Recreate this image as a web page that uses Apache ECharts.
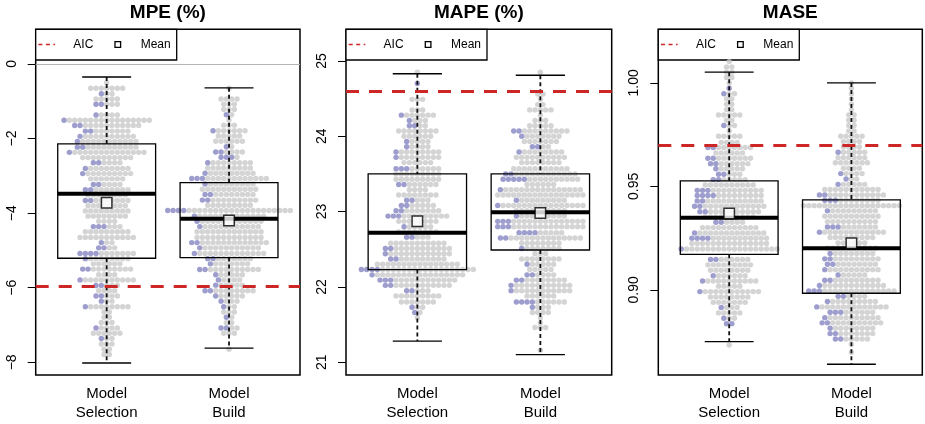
<!DOCTYPE html>
<html>
<head>
<meta charset="utf-8">
<script src="https://cdn.jsdelivr.net/npm/echarts@6/dist/echarts.min.js"></script>
<style>
html, body { margin: 0; padding: 0; background: #fff; }
#chart { width: 925px; height: 424px; }
</style>
</head>
<body>
<div id="chart"></div>
<script>
var categories = ['Model\nSelection', 'Model\nBuild'];
var titles = ['MPE (%)', 'MAPE (%)', 'MASE'];

// box stats: [lower whisker, Q1, median, Q3, upper whisker], Model Selection then Model Build
var mpeBox = [[-8.02, -5.21, -3.48, -2.14, -0.35], [-7.62, -5.19, -4.15, -3.18, -0.64]];
var mpeMean = [-3.72, -4.20];
var mpeAIC = -5.95;
var mpeTicks = [-8, -6, -4, -2, 0];

var mapeBox = [[21.28, 22.23, 22.72, 23.50, 24.83], [21.10, 22.49, 22.99, 23.50, 24.81]];
var mapeMean = [22.87, 22.98];
var mapeAIC = 24.60;
var mapeTicks = [21, 22, 23, 24, 25];

var maseBox = [[0.875, 0.9172, 0.9349, 0.9527, 1.0052], [0.8641, 0.8984, 0.9201, 0.9435, 1.000]];
var maseMean = [0.9369, 0.9226];
var maseAIC = 0.9712;
var maseTicks = [0.90, 0.95, 1.00];

// beeswarm rows: [value, dots in the row, of which blue]
var mpeSelRows = [
  [-0.50,1,0],[-0.65,7,0],[-0.80,3,1],[-0.94,5,0],[-1.08,5,2],[-1.37,5,1],[-1.51,17,1],[-1.65,13,2],
  [-1.80,9,2],[-1.94,11,1],[-2.08,12,1],[-2.23,12,2],[-2.37,15,1],[-2.51,10,0],[-2.65,6,2],[-2.80,9,1],
  [-2.94,10,1],[-3.08,7,0],[-3.23,6,2],[-3.37,9,2],[-3.51,8,0],[-3.66,9,2],[-3.80,8,0],[-3.94,9,0],
  [-4.08,8,0],[-4.22,4,0],[-4.36,6,3],[-4.50,9,0],[-4.65,11,0],[-4.79,3,1],[-4.93,4,2],[-5.08,11,4],
  [-5.22,9,1],[-5.36,6,0],[-5.50,10,2],[-5.65,4,0],[-5.79,11,1],[-5.94,5,2],[-6.08,4,0],[-6.22,5,2],
  [-6.36,3,1],[-6.51,9,1],[-6.65,2,0],[-6.79,2,0],[-6.93,3,0],[-7.08,5,1],[-7.22,6,0],[-7.36,3,1],
  [-7.51,3,0],[-7.65,2,0],[-7.79,2,0]
];
var mpeBuildRows = [
  [-0.65,1,0],[-0.94,4,0],[-1.08,3,0],[-1.22,3,0],[-1.36,2,1],[-1.50,1,0],[-1.64,3,0],[-1.79,7,1],
  [-1.93,5,0],[-2.07,6,0],[-2.22,2,1],[-2.36,6,2],[-2.50,4,3],[-2.65,9,1],[-2.79,9,0],[-2.93,10,1],
  [-3.07,15,3],[-3.22,10,1],[-3.36,11,0],[-3.50,10,2],[-3.65,11,2],[-3.79,9,0],[-3.93,24,4],[-4.08,14,1],
  [-4.22,13,1],[-4.36,12,1],[-4.50,13,0],[-4.65,13,0],[-4.79,15,2],[-4.93,12,1],[-5.08,14,1],[-5.22,9,2],
  [-5.36,8,1],[-5.51,12,2],[-5.65,6,1],[-5.79,5,1],[-5.93,6,1],[-6.08,10,2],[-6.22,6,1],[-6.36,4,1],
  [-6.51,3,1],[-6.65,3,0],[-6.79,2,1],[-6.94,2,0],[-7.08,4,2],[-7.22,3,0],[-7.65,1,0]
];
var mapeSelRows = [
  [24.85,1,0],[24.70,1,1],[24.49,3,0],[24.35,3,0],[24.28,7,1],[24.21,4,1],[24.14,4,2],[24.07,8,0],
  [24.00,6,0],[23.93,5,1],[23.86,5,1],[23.79,9,1],[23.72,9,1],[23.65,6,0],[23.57,9,3],[23.50,9,0],
  [23.43,9,0],[23.36,8,2],[23.29,4,0],[23.22,8,0],[23.15,5,2],[23.08,7,2],[23.01,9,2],[22.94,12,3],
  [22.87,8,0],[22.80,6,1],[22.73,8,0],[22.66,5,2],[22.58,11,0],[22.51,13,2],[22.44,13,1],[22.37,11,2],
  [22.30,16,0],[22.23,22,4],[22.16,18,1],[22.09,15,3],[22.02,13,2],[21.95,5,2],[21.88,9,0],[21.80,7,0],
  [21.73,3,1],[21.66,2,1],[21.59,1,0]
];
var mapeBuildRows = [
  [24.85,1,0],[24.56,2,0],[24.49,1,0],[24.42,2,0],[24.35,5,0],[24.28,1,0],[24.21,3,0],[24.14,5,0],
  [24.07,11,2],[24.00,8,1],[23.93,7,0],[23.86,4,2],[23.79,9,1],[23.72,10,0],[23.65,8,0],[23.57,11,0],
  [23.50,14,2],[23.43,15,5],[23.36,6,0],[23.29,16,1],[23.22,17,0],[23.15,10,1],[23.08,17,1],[23.01,10,0],
  [22.94,10,1],[22.87,17,3],[22.80,17,3],[22.72,9,4],[22.65,16,2],[22.58,8,0],[22.51,8,1],[22.44,3,0],
  [22.37,8,0],[22.30,6,1],[22.23,5,0],[22.16,6,2],[22.09,10,2],[22.02,12,1],[21.95,12,1],[21.88,6,0],
  [21.80,10,4],[21.73,4,1],[21.66,4,0],[21.59,1,0],[21.52,1,0],[21.46,3,0],[21.16,1,0]
];
var maseSelRows = [
  [1.0103,1,0],[1.0077,2,0],[1.0052,2,0],[1.0026,2,0],[1.0000,1,0],[0.9974,1,1],[0.9948,3,1],[0.9923,2,0],
  [0.9897,2,0],[0.9871,2,0],[0.9845,5,0],[0.9820,2,0],[0.9794,3,1],[0.9768,1,0],[0.9742,5,0],[0.9713,4,0],
  [0.9688,9,2],[0.9662,6,0],[0.9636,9,2],[0.9610,8,2],[0.9585,6,1],[0.9559,5,2],[0.9533,7,2],[0.9507,10,0],
  [0.9481,13,3],[0.9456,13,4],[0.9430,13,2],[0.9404,14,2],[0.9378,12,2],[0.9353,10,0],[0.9327,6,2],[0.9301,11,0],
  [0.9275,14,1],[0.9250,15,4],[0.9224,15,0],[0.9198,19,1],[0.9147,8,2],[0.9121,9,0],[0.9095,8,0],[0.9069,7,1],
  [0.9043,11,1],[0.9018,5,0],[0.8992,12,1],[0.8966,8,0],[0.8940,7,0],[0.8915,4,1],[0.8889,5,0],[0.8863,3,1],
  [0.8837,2,2],[0.8734,1,0]
];
var maseBuildRows = [
  [1.0000,1,0],[0.9974,1,0],[0.9948,1,0],[0.9923,1,0],[0.9897,1,0],[0.9871,1,0],[0.9845,2,0],[0.9820,2,0],
  [0.9794,2,0],[0.9768,2,0],[0.9742,5,0],[0.9717,4,0],[0.9691,4,0],[0.9665,6,1],[0.9639,6,0],[0.9614,7,0],
  [0.9588,4,0],[0.9562,5,1],[0.9536,3,1],[0.9510,6,1],[0.9485,11,0],[0.9459,13,2],[0.9433,11,3],[0.9407,19,0],
  [0.9382,10,1],[0.9356,11,0],[0.9330,10,0],[0.9304,10,3],[0.9279,13,1],[0.9253,9,0],[0.9227,6,0],[0.9201,10,0],
  [0.9176,9,1],[0.9150,11,2],[0.9124,10,2],[0.9098,11,1],[0.9072,6,1],[0.9047,11,2],[0.9021,13,1],[0.8995,17,3],
  [0.8969,6,2],[0.8944,10,1],[0.8918,14,1],[0.8892,9,3],[0.8866,11,1],[0.8841,12,2],[0.8815,9,1],[0.8789,9,2],
  [0.8763,7,2],[0.8738,1,0],[0.8699,1,0]
];

var GREY = '#c9c9c9', BLUE = '#8484c2', RED = '#cd2626';
var FONT = '"Liberation Sans", Arial, Helvetica, sans-serif';

var panels = [
  { box: mpeBox, mean: mpeMean, aic: mpeAIC, ticks: mpeTicks, rows: [mpeSelRows, mpeBuildRows], range: [-8.34, 0.93], dec: 0, zero: true, left: 35.7, width: 264.3 },
  { box: mapeBox, mean: mapeMean, aic: mapeAIC, ticks: mapeTicks, rows: [mapeSelRows, mapeBuildRows], range: [20.83, 25.42], dec: 0, zero: false, left: 346, width: 265.7 },
  { box: maseBox, mean: maseMean, aic: maseAIC, ticks: maseTicks, rows: [maseSelRows, maseBuildRows], range: [0.8589, 1.0259], dec: 2, zero: false, left: 658.3, width: 264 }
];
var TOP = 29.3, HEIGHT = 345.7;
var XMIN = 0.42, XMAX = 2.58;

// lay the dots of each row side by side around the group centre
function swarm(rows, cx, dx) {
  var grey = [], blue = [];
  rows.forEach(function (r) {
    var n = r[1], b = r[2];
    for (var i = 0; i < n; i++) {
      var x = cx + (i - (n - 1) / 2) * dx;
      (i < b ? blue : grey).push([x, r[0]]);
    }
  });
  return { grey: grey, blue: blue };
}

function renderBox(params, api) {
  var x = api.value(0);
  var lo = api.value(1), q1 = api.value(2), md = api.value(3), q3 = api.value(4), hi = api.value(5);
  var hw = 0.4, cw = 0.2;
  var c = function (a, b) { return api.coord([a, b]); };
  var pHi = c(x, hi), pQ3 = c(x, q3), pQ1 = c(x, q1), pLo = c(x, lo);
  var bl = c(x - hw, q3), br = c(x + hw, q1);
  var capL = c(x - cw, hi), capR = c(x + cw, hi);
  var capL2 = c(x - cw, lo), capR2 = c(x + cw, lo);
  var mL = c(x - hw, md), mR = c(x + hw, md);
  var dash = { stroke: '#111', lineWidth: 1.8, lineDash: [4, 3] };
  var solid = { stroke: '#000', lineWidth: 1.4 };
  return {
    type: 'group',
    children: [
      { type: 'line', shape: { x1: pHi[0], y1: pHi[1], x2: pQ3[0], y2: pQ3[1] }, style: dash },
      { type: 'line', shape: { x1: pQ1[0], y1: pQ1[1], x2: pLo[0], y2: pLo[1] }, style: dash },
      { type: 'line', shape: { x1: capL[0], y1: capL[1], x2: capR[0], y2: capR[1] }, style: solid },
      { type: 'line', shape: { x1: capL2[0], y1: capL2[1], x2: capR2[0], y2: capR2[1] }, style: solid },
      { type: 'rect', shape: { x: bl[0], y: bl[1], width: br[0] - bl[0], height: br[1] - bl[1] }, style: { fill: 'none', stroke: '#000', lineWidth: 1.3 } },
      { type: 'line', shape: { x1: mL[0], y1: mL[1], x2: mR[0], y2: mR[1] }, style: { stroke: '#000', lineWidth: 4 } }
    ]
  };
}

var grids = [], xAxes = [], yAxes = [], series = [], titleList = [], graphics = [];

panels.forEach(function (p, i) {
  grids.push({ left: p.left, top: TOP, width: p.width, height: HEIGHT, show: true, borderColor: '#000', borderWidth: 1.5, backgroundColor: 'transparent' });
  xAxes.push({
    type: 'value', gridIndex: i, min: XMIN, max: XMAX,
    axisLine: { show: false }, axisTick: { show: false }, splitLine: { show: false },
    axisLabel: {
      customValues: [1, 2], margin: 9, color: '#000', fontSize: 15, lineHeight: 19, fontFamily: FONT,
      formatter: function (v) { return categories[Math.round(v) - 1]; }
    }
  });
  yAxes.push({
    type: 'value', gridIndex: i, min: p.range[0], max: p.range[1],
    axisLine: { show: false }, splitLine: { show: false },
    axisTick: { show: true, customValues: p.ticks, length: 8, lineStyle: { color: '#000', width: 1 } },
    axisLabel: {
      customValues: p.ticks, rotate: 90, margin: 17, color: '#000', fontSize: 14, fontFamily: FONT,
      formatter: (function (dec) { return function (v) { return v.toFixed(dec).replace('-', '\u2212'); }; })(p.dec)
    }
  });

  var dx = 5.33 / (p.width / (XMAX - XMIN));
  var grey = [], blue = [];
  p.rows.forEach(function (rows, k) {
    var s = swarm(rows, k + 1, dx);
    grey = grey.concat(s.grey);
    blue = blue.concat(s.blue);
  });
  series.push({ type: 'scatter', xAxisIndex: i, yAxisIndex: i, data: grey, symbolSize: 5.4, itemStyle: { color: GREY }, z: 2, silent: true });
  series.push({ type: 'scatter', xAxisIndex: i, yAxisIndex: i, data: blue, symbolSize: 5.4, itemStyle: { color: BLUE }, z: 2, silent: true });

  var lines = [{ yAxis: p.aic, lineStyle: { color: RED, width: 3, type: [13, 10] } }];
  if (p.zero) lines.push({ yAxis: 0, lineStyle: { color: '#b4b4b4', width: 1, type: 'solid' } });
  series.push({
    type: 'custom', xAxisIndex: i, yAxisIndex: i, z: 3, silent: true,
    data: p.box.map(function (b, k) { return [k + 1].concat(b); }),
    encode: { x: 0, y: [1, 2, 3, 4, 5] },
    renderItem: renderBox,
    markLine: { symbol: ['none', 'none'], silent: true, label: { show: false }, data: lines }
  });
  series.push({
    type: 'scatter', xAxisIndex: i, yAxisIndex: i, z: 5, silent: true,
    data: p.mean.map(function (m, k) { return [k + 1, m]; }),
    symbol: 'rect', symbolSize: 10.5,
    itemStyle: { color: '#fff', borderColor: '#000', borderWidth: 1.5 }
  });

  titleList.push({
    text: titles[i], left: p.left + p.width / 2, top: 3, textAlign: 'center', padding: 0,
    textStyle: { fontSize: 19, fontWeight: 'bold', color: '#000', fontFamily: FONT }
  });

  // legend box in the top left corner of each panel
  var L = p.left, ym = TOP + 15.2;
  graphics.push({
    type: 'group', z: 100,
    children: [
      { type: 'rect', shape: { x: L, y: TOP, width: 141, height: 30.7 }, style: { fill: '#fff', stroke: '#000', lineWidth: 1.3 } },
      { type: 'line', shape: { x1: L + 2.7, y1: ym, x2: L + 19.3, y2: ym }, style: { stroke: RED, lineWidth: 1.5, lineDash: [4, 3.5] } },
      { type: 'text', x: L + 37.6, y: ym, style: { text: 'AIC', fill: '#000', font: '12px ' + FONT, verticalAlign: 'middle' } },
      { type: 'rect', shape: { x: L + 79.3, y: ym - 2.8, width: 5.6, height: 5.6 }, style: { fill: '#fff', stroke: '#000', lineWidth: 1.3 } },
      { type: 'text', x: L + 105, y: ym, style: { text: 'Mean', fill: '#000', font: '12px ' + FONT, verticalAlign: 'middle' } }
    ]
  });
});

var chart = echarts.init(document.getElementById('chart'));
chart.setOption({
  animation: false,
  backgroundColor: '#fff',
  title: titleList,
  grid: grids,
  xAxis: xAxes,
  yAxis: yAxes,
  series: series,
  graphic: graphics
});
</script>
</body>
</html>
